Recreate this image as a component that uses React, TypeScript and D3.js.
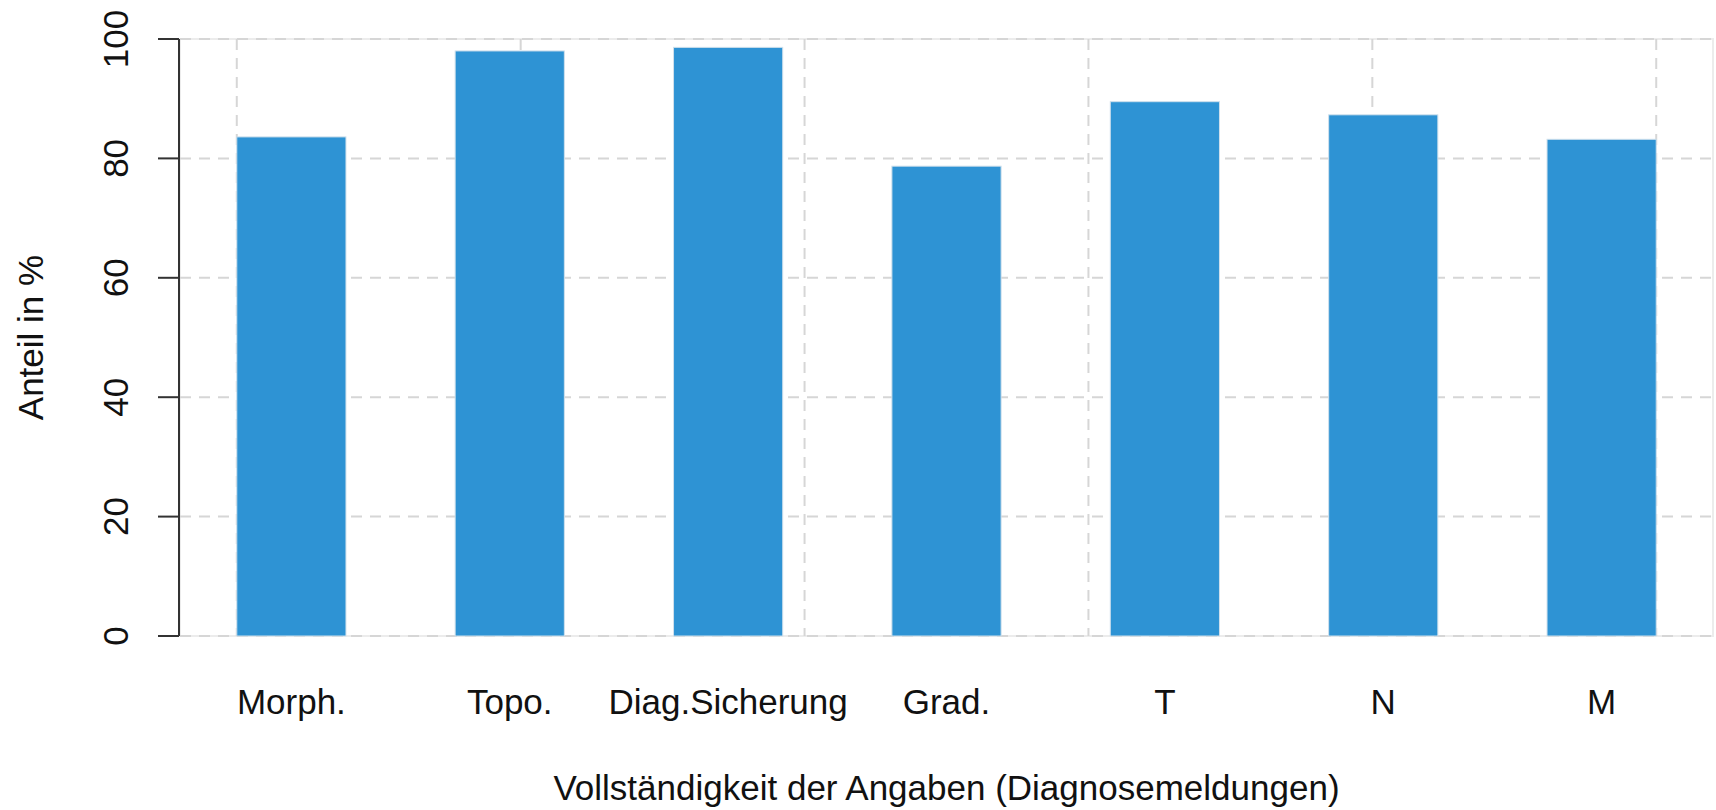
import React, { useRef, useEffect } from "react";
import * as d3 from "d3";

// chart data
const categories = ["Morph.", "Topo.", "Diag.Sicherung", "Grad.", "T", "N", "M"];
const shares = [83.6, 98.0, 98.6, 78.7, 89.5, 87.3, 83.2];
const yTicks = [0, 20, 40, 60, 80, 100];
// vertical grid positions in bar units (bars span 1..14)
const xGridAt = [1, 3.6, 6.2, 8.8, 11.4, 14];

const App = () => {
  const svgRef = useRef<SVGSVGElement>(null);

  useEffect(() => {
    const svg = d3.select(svgRef.current);
    svg.selectAll("*").remove();

    const width = 1716;
    const height = 810;
    const margin = { top: 39, right: 3, bottom: 174, left: 180 };
    const font = "'Liberation Sans', Arial, sans-serif";

    svg.attr("width", width).attr("height", height);

    // barplot layout: width 1, space 1 -> bar i spans [2i+1, 2i+2]
    const lo = 1;
    const hi = categories.length * 2;
    const pad = (hi - lo) * 0.04;
    const x = d3
      .scaleLinear()
      .domain([lo - pad, hi + pad])
      .range([margin.left, width - margin.right]);

    const y = d3
      .scaleLinear()
      .domain([0, 100])
      .range([height - margin.bottom, margin.top]);

    const barLeft = (i: number) => 2 * i + 1;

    // plot box
    svg
      .append("rect")
      .attr("x", margin.left)
      .attr("y", margin.top)
      .attr("width", width - margin.left - margin.right)
      .attr("height", height - margin.top - margin.bottom)
      .attr("fill", "none")
      .attr("stroke", "#ececec")
      .attr("stroke-width", 2);

    // grid
    svg
      .selectAll("line.hgrid")
      .data(yTicks)
      .join("line")
      .attr("class", "hgrid")
      .attr("x1", margin.left)
      .attr("x2", width - margin.right)
      .attr("y1", d => y(d))
      .attr("y2", d => y(d))
      .attr("stroke", "#d6d6d6")
      .attr("stroke-width", 2)
      .attr("stroke-dasharray", "11,8");

    svg
      .selectAll("line.vgrid")
      .data(xGridAt)
      .join("line")
      .attr("class", "vgrid")
      .attr("x1", d => x(d))
      .attr("x2", d => x(d))
      .attr("y1", y(100))
      .attr("y2", y(0))
      .attr("stroke", "#d6d6d6")
      .attr("stroke-width", 2)
      .attr("stroke-dasharray", "11,8");

    // bars
    svg
      .selectAll("rect.bar")
      .data(shares)
      .join("rect")
      .attr("class", "bar")
      .attr("x", (d, i) => x(barLeft(i)))
      .attr("y", d => y(d))
      .attr("width", (d, i) => x(barLeft(i) + 1) - x(barLeft(i)))
      .attr("height", d => y(0) - y(d))
      .attr("fill", "#2e93d4")
      .attr("stroke", "#cfe0ec")
      .attr("stroke-width", 1);

    // y axis
    const axisColor = "#333333";
    svg
      .append("line")
      .attr("x1", margin.left - 1)
      .attr("x2", margin.left - 1)
      .attr("y1", y(100))
      .attr("y2", y(0))
      .attr("stroke", axisColor)
      .attr("stroke-width", 2);

    svg
      .selectAll("line.ytick")
      .data(yTicks)
      .join("line")
      .attr("class", "ytick")
      .attr("x1", margin.left - 22)
      .attr("x2", margin.left - 1)
      .attr("y1", d => y(d))
      .attr("y2", d => y(d))
      .attr("stroke", axisColor)
      .attr("stroke-width", 2);

    svg
      .selectAll("text.ylab")
      .data(yTicks)
      .join("text")
      .attr("class", "ylab")
      .attr("transform", d => `translate(128,${y(d)}) rotate(-90)`)
      .attr("text-anchor", "middle")
      .attr("fill", "#111")
      .style("font-family", font)
      .style("font-size", "35px")
      .text(d => d);

    // category labels
    svg
      .selectAll("text.xlab")
      .data(categories)
      .join("text")
      .attr("class", "xlab")
      .attr("x", (d, i) => x(barLeft(i) + 0.5))
      .attr("y", 714)
      .attr("text-anchor", "middle")
      .attr("fill", "#111")
      .style("font-family", font)
      .style("font-size", "35px")
      .text(d => d);

    // axis titles
    svg
      .append("text")
      .attr("transform", `translate(43,${(y(0) + y(100)) / 2}) rotate(-90)`)
      .attr("text-anchor", "middle")
      .attr("fill", "#111")
      .style("font-family", font)
      .style("font-size", "35px")
      .text("Anteil in %");

    svg
      .append("text")
      .attr("x", (margin.left + width - margin.right) / 2)
      .attr("y", 800)
      .attr("text-anchor", "middle")
      .attr("fill", "#111")
      .style("font-family", font)
      .style("font-size", "35px")
      .text("Vollständigkeit der Angaben (Diagnosemeldungen)");
  }, []);

  return (
    <svg
      ref={svgRef}
      style={{ position: "absolute", left: 0, top: 0, background: "#fff" }}
    />
  );
};

export default App;
